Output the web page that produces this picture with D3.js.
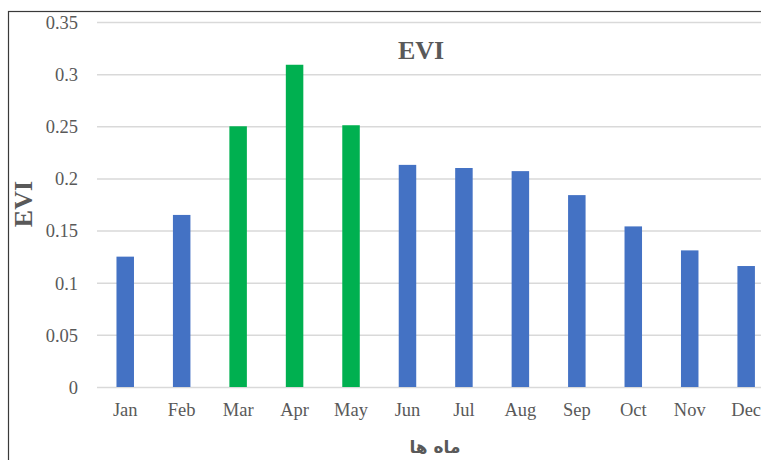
<!DOCTYPE html>
<html><head><meta charset="utf-8">
<script src="https://cdn.jsdelivr.net/npm/d3@7"></script>
<style>html,body{margin:0;padding:0;background:#fff;overflow:hidden}</style>
</head><body>
<script>
const months = ["Jan","Feb","Mar","Apr","May","Jun","Jul","Aug","Sep","Oct","Nov","Dec"];
const evi = [0.125, 0.165, 0.250, 0.309, 0.251, 0.213, 0.210, 0.207, 0.184, 0.154, 0.131, 0.116];
const highlighted = ["Mar","Apr","May"];
const yTicks = [0, 0.05, 0.1, 0.15, 0.2, 0.25, 0.3, 0.35];
const yTickLabels = ["0","0.05","0.1","0.15","0.2","0.25","0.3","0.35"];
const chartTitle = "EVI";
const yTitle = "EVI";
const xTitle = "ماه ها";

(function () {
const W = 761, H = 460;
const svg = d3.select("body").append("svg").attr("width", W).attr("height", H);
const plotLeft = 97, step = 56.45, plotTop = 22, plotBottom = 387;
const x = d3.scaleBand().domain(months).range([plotLeft, plotLeft + step * months.length]).paddingInner(0.69).paddingOuter(0.345);
const y = d3.scaleLinear().domain([0, 0.35]).range([plotBottom, plotTop]);

// outer border
svg.append("rect").attr("x", 8.5).attr("y", 11.5).attr("width", 800).attr("height", 500)
  .attr("fill", "none").attr("stroke", "#3a3a3a").attr("stroke-width", 1.2);

// gridlines
const yAxis = d3.axisLeft(y).tickValues(yTicks).tickSize(-(W + 20 - plotLeft))
  .tickFormat((d, i) => yTickLabels[i]).tickPadding(19);
const gy = svg.append("g").attr("transform", `translate(${plotLeft},0)`).call(yAxis);
gy.select(".domain").remove();
gy.selectAll(".tick line").attr("stroke", "#d9d9d9").attr("stroke-width", 1.5);
gy.selectAll(".tick text").attr("fill", "#595959").attr("font-family", "'Liberation Serif', serif")
  .attr("font-size", 18.5).attr("dy", "0.34em");

// bars
svg.append("g").selectAll("rect").data(months).join("rect")
  .attr("x", d => x(d)).attr("width", x.bandwidth())
  .attr("y", (d, i) => y(evi[i])).attr("height", (d, i) => y(0) - y(evi[i]))
  .attr("fill", d => highlighted.includes(d) ? "#00b050" : "#4472c4");

// x axis
const xAxis = d3.axisBottom(x).tickSize(0).tickPadding(16);
const gx = svg.append("g").attr("transform", `translate(0,${plotBottom})`).call(xAxis);
gx.select(".domain").remove();
gx.selectAll(".tick text").attr("fill", "#595959").attr("font-family", "'Liberation Serif', serif")
  .attr("font-size", 18.5);

// titles
svg.append("text").attr("x", 421).attr("y", 59).attr("text-anchor", "middle")
  .attr("font-family", "'Liberation Serif', serif").attr("font-weight", "bold").attr("font-size", 26)
  .attr("fill", "#595959").text(chartTitle);
svg.append("text").attr("transform", "translate(32,204) rotate(-90)").attr("text-anchor", "middle")
  .attr("font-family", "'Liberation Serif', serif").attr("font-weight", "bold").attr("font-size", 26)
  .attr("fill", "#595959").text(yTitle);
svg.append("text").attr("x", 435).attr("y", 453).attr("text-anchor", "middle")
  .attr("font-family", "'DejaVu Sans', 'Noto Sans', sans-serif").attr("font-weight", "bold").attr("font-size", 17)
  .attr("fill", "#595959").attr("direction", "rtl").text(xTitle);
})();
</script>
</body></html>
